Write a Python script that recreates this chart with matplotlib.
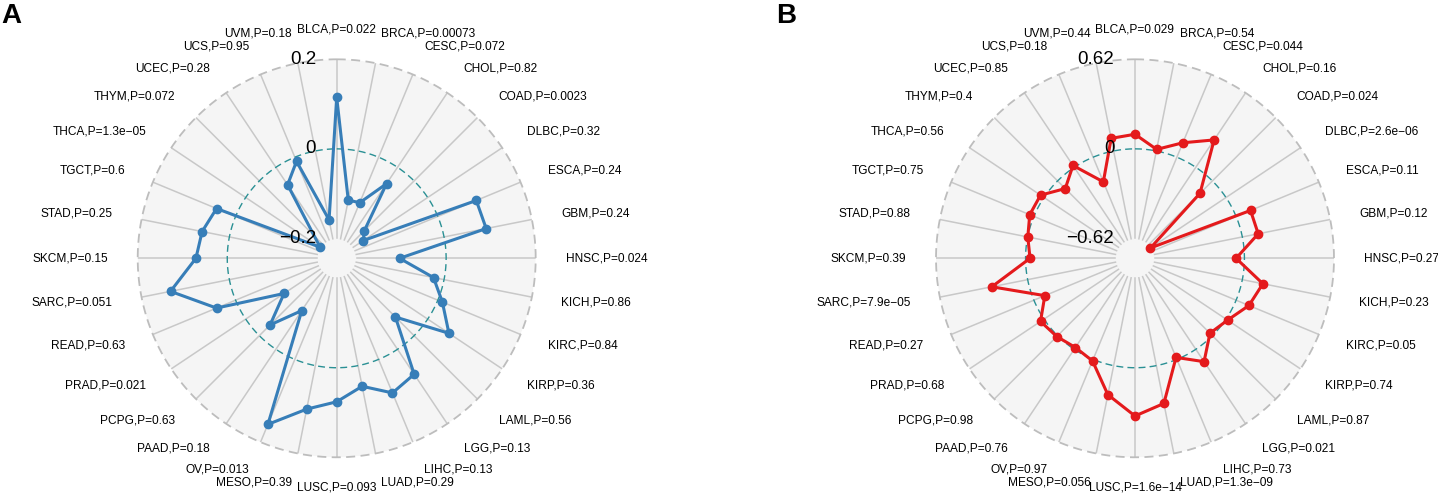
import numpy as np
import matplotlib
matplotlib.use("Agg")
from matplotlib import pyplot as plt

plt.rcParams['font.family'] = ['Liberation Sans', 'DejaVu Sans']

cancers = ['BLCA', 'BRCA', 'CESC', 'CHOL', 'COAD', 'DLBC', 'ESCA', 'GBM',
           'HNSC', 'KICH', 'KIRC', 'KIRP', 'LAML', 'LGG', 'LIHC', 'LUAD',
           'LUSC', 'MESO', 'OV', 'PAAD', 'PCPG', 'PRAD', 'READ', 'SARC',
           'SKCM', 'STAD', 'TGCT', 'THCA', 'THYM', 'UCEC', 'UCS', 'UVM']

# panel A
pA = ['0.022', '0.00073', '0.072', '0.82', '0.0023', '0.32', '0.24', '0.24',
      '0.024', '0.86', '0.84', '0.36', '0.56', '0.13', '0.13', '0.29',
      '0.093', '0.39', '0.013', '0.18', '0.63', '0.021', '0.63', '0.051',
      '0.15', '0.25', '0.6', '1.3e\u221205', '0.072', '0.28', '0.95', '0.18']
corA = [0.115, -0.112, -0.110, -0.044, -0.157, -0.173, 0.093, 0.096,
        -0.104, -0.024, 0.011, 0.057, -0.059, 0.067, 0.081, 0.047,
        0.076, 0.099, 0.157, -0.104, -0.034, -0.103, 0.046, 0.134,
        0.070, 0.062, 0.046, -0.200, None, -0.047, -0.010, -0.157]

# panel B
pB = ['0.029', '0.54', '0.044', '0.16', '0.024', '2.6e\u221206', '0.11', '0.12',
      '0.27', '0.23', '0.05', '0.74', '0.87', '0.021', '0.73', '1.3e\u221209',
      '1.6e\u221214', '0.056', '0.97', '0.76', '0.98', '0.68', '0.27', '7.9e\u221205',
      '0.39', '0.88', '0.75', '0.56', '0.4', '0.85', '0.18', '0.44']
corB = [0.101, 0.011, 0.108, 0.228, -0.121, -0.629, 0.108, 0.112,
        -0.058, 0.145, 0.096, 0.013, -0.024, 0.103, -0.015, 0.267,
        0.334, 0.205, 0.011, -0.015, 0.008, 0.029, -0.082, 0.253,
        -0.031, -0.001, 0.031, 0.029, -0.075, 0.015, -0.185, 0.089]


def radar(ax, vals, pvals, gmin, gmax, glabels, col):
    centre = gmin - (gmax - gmin) / 9.0
    R = gmax - centre
    n = len(cancers)
    ang = np.arange(n) * 2 * np.pi / n
    ax.set_theta_zero_location('N')
    ax.set_theta_direction(-1)
    ax.set_ylim(0, R)
    ax.set_axis_off()

    tt = np.linspace(0, 2 * np.pi, 400)
    ax.fill(tt, np.full(400, R), color='#F5F5F5', zorder=0, lw=0)
    for a in ang:
        ax.plot([a, a], [gmin - centre, R], color='#C8C8C8', lw=1.1, zorder=1)
    ax.plot(tt, np.full(400, R), color='#BDBDBD', lw=1.3, ls=(0, (5, 3)),
            zorder=2, clip_on=False)
    ax.plot(tt, np.full(400, 0 - centre), color='#2A9094', lw=1.0,
            ls=(0, (5, 3)), zorder=2)

    # data, NA values dropped
    th = [a for a, v in zip(ang, vals) if v is not None]
    rr = [v - centre for v in vals if v is not None]
    th = th + [th[0]]
    rr = rr + [rr[0]]
    ax.plot(th, rr, color=col, lw=2.2, zorder=4, clip_on=False)
    ax.plot(th[:-1], rr[:-1], 'o', color=col, ms=6, zorder=5, clip_on=False)

    for a, c, p in zip(ang, cancers, pvals):
        s = np.sin(a)
        if abs(s) < 1e-6:
            ha = 'center'
        elif s > 0:
            ha = 'left'
        else:
            ha = 'right'
        ax.text(a, 1.15 * R, c + ',P=' + p, ha=ha, va='center', fontsize=8.6,
                clip_on=False)

    for g, lab in zip([gmin, 0, gmax], glabels):
        y = g - centre
        x = -0.104 * R
        ax.text(np.arctan2(x, y) % (2 * np.pi), np.hypot(x, y), lab,
                ha='right', va='center', fontsize=13.5, zorder=6, clip_on=False)


W, H = 1438, 494
fig = plt.figure(figsize=(W / 100, H / 100), dpi=100)
rad = 199
for cx, vals, pv, gmin, gmax, gl, col in [
        (336.7, corA, pA, -0.2, 0.2, ['\u22120.2', '0', '0.2'], '#377EB8'),
        (1135.0, corB, pB, -0.62, 0.62, ['\u22120.62', '0', '0.62'], '#E41A1C')]:
    cy = H - 258.3
    ax = fig.add_axes([(cx - rad) / W, (cy - rad) / H, 2 * rad / W, 2 * rad / H],
                      projection='polar')
    radar(ax, vals, pv, gmin, gmax, gl, col)

fig.text(1 / W, 1 - 3 / H, 'A', fontsize=20, fontweight='bold', va='top')
fig.text(776 / W, 1 - 3 / H, 'B', fontsize=20, fontweight='bold', va='top')

fig.savefig('out.png', dpi=100)
